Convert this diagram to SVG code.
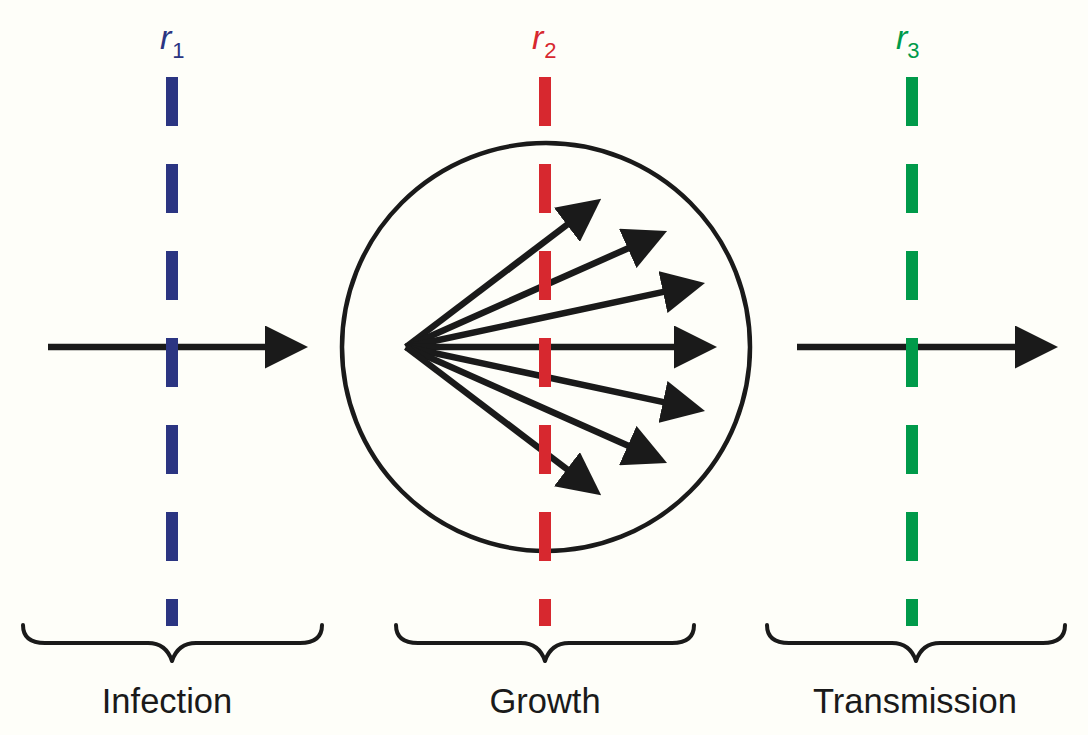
<svg xmlns="http://www.w3.org/2000/svg" width="1088" height="735" viewBox="0 0 1088 735">
  <style>
    .arrow { stroke: #1a1a1a; stroke-width: 6.5; fill: none; marker-end: url(#head); }
    .brace { stroke: #1a1a1a; stroke-width: 4; fill: none; stroke-linecap: round; stroke-linejoin: round; }
    .rate { stroke-width: 12; stroke-dasharray: 49 38; fill: none; }
    .label { font-family: "Liberation Sans", Arial, sans-serif; font-size: 34.5px; fill: #1a1a1a; text-anchor: middle; }
    .sym { font-family: "Liberation Sans", Arial, sans-serif; font-size: 34px; font-style: italic; }
    .sub { font-size: 22px; font-style: normal; }
  </style>
  <defs>
    <marker id="head" markerUnits="userSpaceOnUse" viewBox="0 0 43 43" markerWidth="43" markerHeight="43" refX="3" refY="21.5" orient="auto">
      <path d="M0,0 L43,21.5 L0,43 Z" fill="#1a1a1a"/>
    </marker>
  </defs>

  <rect width="1088" height="735" fill="#fefef9"/>

  <!-- Growth compartment -->
  <g id="host">
    <circle cx="546" cy="347" r="204" fill="none" stroke="#1a1a1a" stroke-width="4.5"/>
  </g>

  <!-- Arrows -->
  <g id="connectors">
    <line class="arrow" x1="48" y1="347" x2="268" y2="347"/>
    <line class="arrow" x1="797" y1="347" x2="1018" y2="347"/>
    <line class="arrow" x1="406" y1="347" x2="569.3" y2="223"/>
    <line class="arrow" x1="406" y1="347" x2="630.5" y2="247.2"/>
    <line class="arrow" x1="406" y1="347" x2="665.9" y2="291.4"/>
    <line class="arrow" x1="406" y1="347" x2="677" y2="347"/>
    <line class="arrow" x1="406" y1="347" x2="665.9" y2="402.6"/>
    <line class="arrow" x1="406" y1="347" x2="630.5" y2="446.8"/>
    <line class="arrow" x1="406" y1="347" x2="569.3" y2="471"/>
  </g>

  <!-- Rate boundaries -->
  <g id="rate1">
    <line class="rate" x1="172" y1="77" x2="172" y2="626" stroke="#2b3582"/>
    <text class="sym" x="160" y="49" fill="#2b3582">r<tspan class="sub" dx="1" dy="9">1</tspan></text>
  </g>
  <g id="rate2">
    <line class="rate" x1="545" y1="77" x2="545" y2="626" stroke="#d7282f"/>
    <text class="sym" x="532" y="49" fill="#d7282f">r<tspan class="sub" dx="1" dy="9">2</tspan></text>
  </g>
  <g id="rate3">
    <line class="rate" x1="912" y1="77" x2="912" y2="626" stroke="#009a4a"/>
    <text class="sym" x="896" y="49" fill="#009a4a">r<tspan class="sub" dx="0" dy="9">3</tspan></text>
  </g>

  <!-- Stage braces and labels -->
  <g id="infection">
    <path class="brace" d="M23,625 Q23,643 45,643 L148,643 Q166,643 172,661 Q178,643 196,643 L300,643 Q322,643 322,625"/>
    <text class="label" x="167" y="713">Infection</text>
  </g>
  <g id="growth">
    <path class="brace" d="M396,625 Q396,643 418,643 L521,643 Q539,643 545,661 Q551,643 569,643 L672,643 Q694,643 694,625"/>
    <text class="label" x="545" y="713">Growth</text>
  </g>
  <g id="transmission">
    <path class="brace" d="M767,625 Q767,643 789,643 L892,643 Q910,643 916,661 Q922,643 940,643 L1043,643 Q1065,643 1065,625"/>
    <text class="label" x="915" y="713">Transmission</text>
  </g>
</svg>
